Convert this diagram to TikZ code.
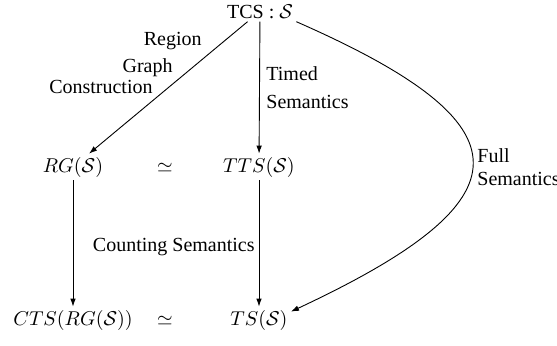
\documentclass[tikz,border=0pt]{standalone}
\usepackage{fontspec}
\setmainfont{Liberation Serif}
\usetikzlibrary{arrows.meta}
\begin{document}
\begin{tikzpicture}[x=0.5pt,y=-0.5pt,
  obj/.style={inner sep=1.5pt},
  lbl/.style={inner sep=0pt,font=\fontsize{10}{12}\selectfont},
  arr/.style={-{Latex[length=4pt,width=2.8pt]},line width=0.45pt}]
\useasboundingbox (0,0) rectangle (557,345);
\node[obj,anchor=base] (tcs) at (260,18) {TCS : $\mathcal{S}$};
\node[obj,anchor=base] (rg) at (73,172) {$RG(\mathcal{S})$};
\node[obj,anchor=base] (sim1) at (165,172) {$\simeq$};
\node[obj,anchor=base] (tts) at (259,172) {$TTS(\mathcal{S})$};
\node[obj,anchor=base] (cts) at (73,325) {$CTS(RG(\mathcal{S}))$};
\node[obj,anchor=base] (sim2) at (165,325) {$\simeq$};
\node[obj,anchor=base] (ts) at (259,325) {$TS(\mathcal{S})$};
\draw[arr] (tcs) -- (rg);
\draw[arr] (tcs) -- (tts);
\draw[arr] (rg) -- (cts);
\draw[arr] (tts) -- (ts);
\draw[arr] (tcs.south east) .. controls (532,125) and (532,199) .. ([yshift=-2.5pt]ts.north east);
\node[lbl,anchor=base east] (l1) at (202,45) {Region};
\node[lbl,anchor=base east] (l2) at (173,72) {Graph};
\node[lbl,anchor=base east] (l3) at (153,93) {Construction};
\node[lbl,anchor=base west] (l4) at (266,80) {Timed};
\node[lbl,anchor=base west] (l5) at (266,108) {Semantics};
\node[lbl,anchor=base west] (l6) at (477,162) {Full};
\node[lbl,anchor=base west] (l7) at (477,185) {Semantics};
\node[lbl,anchor=base east] (l8) at (255,251) {Counting Semantics};
\end{tikzpicture}
\end{document}
